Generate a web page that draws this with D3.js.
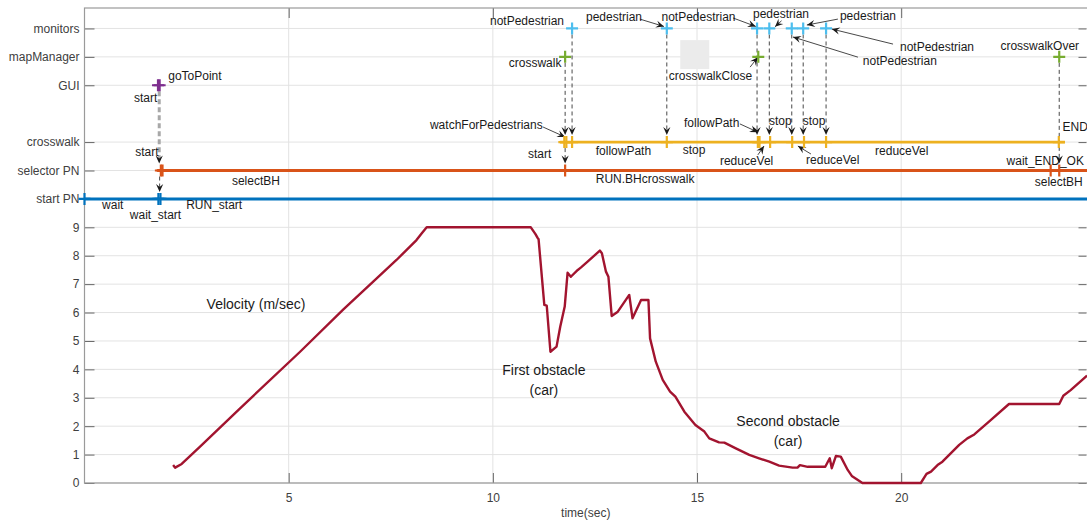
<!DOCTYPE html>
<html>
<head>
<meta charset="utf-8">
<script src="https://cdn.jsdelivr.net/npm/d3@7/dist/d3.min.js"></script>
<style>
  body { margin: 0; background: #fff; }
  text { font-family: "Liberation Sans", Arial, sans-serif; }
</style>
</head>
<body>
<script>
// velocity trace (time in sec, m/sec)
const timeS = [
  2.17, 2.22, 2.38, 2.83, 3.81, 5.28, 6.34, 7.07, 7.64, 8.13,
  8.26, 8.38, 10.93, 11.04, 11.10, 11.12, 11.26, 11.32, 11.41, 11.56,
  11.65, 11.76, 11.83, 11.91, 12.08, 12.16, 12.32, 12.62, 12.67, 12.77,
  12.83, 12.91, 13.06, 13.34, 13.42, 13.63, 13.81, 13.85, 13.99, 14.16,
  14.34, 14.47, 14.69, 14.96, 15.18, 15.30, 15.54, 15.67, 15.95, 16.28,
  16.52, 16.77, 17.01, 17.34, 17.46, 17.52, 17.71, 18.14, 18.25, 18.30,
  18.40, 18.52, 18.69, 18.79, 19.05, 20.48, 20.62, 20.73, 20.89, 21.01,
  21.42, 21.62, 21.79, 22.15, 22.64, 23.87, 23.97, 24.15, 24.55
];
const velocity = [
  0.63, 0.54, 0.67, 1.28, 2.63, 4.62, 6.11, 7.09, 7.85, 8.55,
  8.79, 9.00, 9.00, 8.77, 8.62, 8.58, 6.27, 6.24, 4.62, 4.80,
  5.50, 6.21, 7.40, 7.26, 7.50, 7.59, 7.79, 8.18, 8.09, 7.44,
  7.26, 5.88, 6.03, 6.62, 5.80, 6.44, 6.44, 5.09, 4.27, 3.63,
  3.22, 3.04, 2.51, 2.04, 1.81, 1.57, 1.43, 1.42, 1.22, 0.99,
  0.87, 0.75, 0.61, 0.54, 0.54, 0.63, 0.57, 0.57, 0.87, 0.52,
  0.95, 0.93, 0.46, 0.25, 0.00, 0.00, 0.32, 0.40, 0.63, 0.75,
  1.34, 1.57, 1.71, 2.16, 2.78, 2.78, 3.07, 3.27, 3.78
];

// event rows drawn above the velocity trace
const rowNames  = ["start PN", "selector PN", "crosswalk", "GUI", "mapManager", "monitors"];
const rowLevels = [10, 11, 12, 14, 15, 16];
const lineStart = [0, 1.78, 11.64, null, null, null];
const lineEnd   = [24.6, 24.6, 24.01, null, null, null];

const startPnEvents    = [0, 1.81, 1.86];
const selectorEvents   = [1.87, 1.91, 11.77, 23.66, 23.87];
const crosswalkEvents  = [11.75, 11.80, 11.94, 14.26, 16.49, 16.53, 16.79, 17.33, 17.62, 18.16, 23.86];
const guiEvents        = [1.80, 1.84];
const mapManagerEvents = [11.77, 16.50, 23.87];
const monitorEvents    = [11.94, 14.26, 16.47, 16.77, 17.32, 17.60, 18.16];

// [time, from level, to level]
const guiArrow = [1.83, 14, 11];
const dashedArrows = [
  [1.84, 11, 10],
  [11.77, 15, 12], [11.94, 16, 12], [11.77, 12, 11],
  [14.26, 16, 12], [16.47, 16, 12], [16.77, 16, 12],
  [17.32, 16, 12], [17.60, 16, 12], [18.16, 16, 12],
  [23.87, 15, 11]
];

// [text, time, level] (left edge, vertical centre)
const eventLabels = [
  ["wait", 0.43, 9.75], ["wait_start", 1.11, 9.40], ["RUN_start", 2.49, 9.76],
  ["start", 1.24, 11.61], ["selectBH", 3.61, 10.61],
  ["start", 1.21, 13.51], ["goToPoint", 2.05, 14.30],
  ["notPedestrian", 9.93, 16.24], ["crosswalk", 10.39, 14.77],
  ["watchForPedestrians", 8.46, 12.57], ["start", 10.86, 11.55],
  ["followPath", 12.52, 11.64], ["stop", 14.65, 11.70], ["RUN.BHcrosswalk", 12.52, 10.67],
  ["pedestrian", 12.28, 16.36], ["notPedestrian", 14.13, 16.37],
  ["crosswalkClose", 14.31, 14.29], ["followPath", 14.68, 12.64],
  ["reduceVel", 15.56, 11.31], ["stop", 16.76, 12.72], ["stop", 17.59, 12.72],
  ["reduceVel", 17.67, 11.34], ["pedestrian", 16.37, 16.47], ["pedestrian", 18.50, 16.41],
  ["notPedestrian", 19.97, 15.31], ["notPedestrian", 19.06, 14.82],
  ["reduceVel", 19.36, 11.66], ["crosswalkOver", 22.43, 15.36], ["END", 23.95, 12.51],
  ["wait_END_OK", 22.58, 11.32], ["selectBH", 23.27, 10.58]
];

// [t0, v0, t1 (tip), v1 (tip)]
const pointerArrows = [
  [11.23, 12.53, 11.77, 12.18],
  [13.60, 16.33, 14.19, 16.07],
  [15.88, 16.37, 16.44, 16.07],
  [17.07, 16.27, 16.91, 16.06],
  [18.45, 16.33, 17.69, 16.12],
  [19.80, 15.45, 18.30, 15.98],
  [18.94, 14.99, 17.35, 15.70],
  [16.30, 14.64, 16.49, 14.99],
  [16.05, 12.64, 16.49, 12.35],
  [16.49, 11.55, 16.64, 11.86],
  [17.79, 11.58, 17.47, 11.86]
];

// [text, time, level] centred notes
const notes = [
  ["First obstacle", 11.25, 3.94], ["(car)", 11.25, 3.22],
  ["Second obstacle", 17.23, 2.14], ["(car)", 17.23, 1.45]
];

const velTicks  = [0, 1, 2, 3, 4, 5, 6, 7, 8, 9];
const timeTicks = [5, 10, 15, 20];

const W = 1087, H = 522;
const margin = {top: 8, right: 0, bottom: 39, left: 84.5};

const svg = d3.select("body").append("svg")
  .attr("width", W).attr("height", H);

const x = d3.scaleLinear().domain([0, 24.55]).range([margin.left, W - margin.right]);
const y = d3.scaleLinear().domain([0, 16.72]).range([H - margin.bottom, margin.top]);

const yTicks = velTicks.concat(rowLevels);

// grid
svg.append("g").selectAll("line").data(yTicks).join("line")
  .attr("x1", x(0)).attr("x2", W)
  .attr("y1", d => y(d)).attr("y2", d => y(d))
  .attr("stroke", "#e3e3e3").attr("stroke-width", 1);
svg.append("g").selectAll("line").data(timeTicks).join("line")
  .attr("x1", d => x(d)).attr("x2", d => x(d))
  .attr("y1", y(0)).attr("y2", y(16.72))
  .attr("stroke", "#e3e3e3").attr("stroke-width", 1);

// axes
const tickFmt = d => d < 10 ? String(d) : rowNames[rowLevels.indexOf(d)];
const gl = svg.append("g").attr("transform", `translate(${x(0)},0)`)
  .call(d3.axisLeft(y).tickValues(yTicks).tickSize(-10).tickPadding(5).tickFormat(tickFmt));
const gr = svg.append("g").attr("transform", `translate(${W - 0.5},0)`)
  .call(d3.axisRight(y).tickValues(yTicks).tickSize(-8).tickFormat(""));
const gb = svg.append("g").attr("transform", `translate(0,${y(0)})`)
  .call(d3.axisBottom(x).tickValues(timeTicks).tickSize(-10).tickPadding(10).tickFormat(d3.format("d")));
const gt = svg.append("g").attr("transform", `translate(0,${y(16.72)})`)
  .call(d3.axisTop(x).tickValues(timeTicks).tickSize(-10).tickFormat(""));
[gl, gr, gb, gt].forEach(g => {
  g.select(".domain").remove();
  g.selectAll(".tick line").attr("stroke", "#666");
  g.selectAll("text").attr("fill", "#404040").style("font-size", "12px")
    .style("font-family", "'Liberation Sans', Arial, sans-serif");
});

svg.append("rect")
  .attr("x", x(0)).attr("y", y(16.72))
  .attr("width", W - x(0) + 2).attr("height", y(0) - y(16.72))
  .attr("fill", "none").attr("stroke", "#9a9a9a").attr("stroke-width", 1.2);

svg.append("text").attr("x", (x(0) + W) / 2).attr("y", y(0) + 34)
  .attr("text-anchor", "middle").attr("fill", "#404040").style("font-size", "12px")
  .text("time(sec)");

// empty note box
svg.append("rect")
  .attr("x", x(14.59)).attr("y", y(15.59))
  .attr("width", x(15.30) - x(14.59)).attr("height", y(14.57) - y(15.59))
  .attr("fill", "#ebebeb");

// velocity
const vel = timeS.map((t, i) => [t, velocity[i]]);
svg.append("path").datum(vel)
  .attr("fill", "none").attr("stroke", "#A2142F").attr("stroke-width", 2.4)
  .attr("stroke-linejoin", "round")
  .attr("d", d3.line().x(d => x(d[0])).y(d => y(d[1])));

svg.append("text").attr("x", x(2.99)).attr("y", y(6.27))
  .attr("dominant-baseline", "middle").attr("fill", "#1a1a1a").style("font-size", "14px")
  .text("Velocity (m/sec)");
svg.append("g").selectAll("text").data(notes).join("text")
  .attr("x", d => x(d[1])).attr("y", d => y(d[2]))
  .attr("text-anchor", "middle").attr("dominant-baseline", "middle")
  .attr("fill", "#1a1a1a").style("font-size", "14px")
  .text(d => d[0]);

// event lines
const rowColors = ["#0072BD", "#D95319", "#EDB120", "#7E2F8E", "#77AC30", "#4DBEEE"];
const rowEvents = [startPnEvents, selectorEvents, crosswalkEvents, guiEvents, mapManagerEvents, monitorEvents];

rowLevels.forEach((lv, i) => {
  if (lineStart[i] === null) return;
  svg.append("line")
    .attr("x1", x(lineStart[i])).attr("x2", x(lineEnd[i]))
    .attr("y1", y(lv)).attr("y2", y(lv))
    .attr("stroke", rowColors[i]).attr("stroke-width", i === 2 ? 2.6 : 3);
});

// arrow head (filled, notched back)
function arrowHead(g, x1, y1, x2, y2) {
  const a = Math.atan2(y2 - y1, x2 - x1);
  const L = 8, w = 3.6, n = 3;
  const pts = [[0, 0], [-L, w], [-L + n, 0], [-L, -w]].map(([px, py]) => [
    x2 + px * Math.cos(a) - py * Math.sin(a),
    y2 + px * Math.sin(a) + py * Math.cos(a)
  ]);
  g.append("polygon").attr("points", pts.map(p => p.join(",")).join(" ")).attr("fill", "#1a1a1a");
}

const arrows = svg.append("g");
// GUI -> selector (thick grey)
{
  const [t, from, to] = guiArrow;
  const y1 = y(from) + 6, y2 = y(to) - 7;
  arrows.append("line").attr("x1", x(t)).attr("x2", x(t)).attr("y1", y1).attr("y2", y2 - 4)
    .attr("stroke", "#a8a8a8").attr("stroke-width", 3).attr("stroke-dasharray", "5,3");
  arrowHead(arrows, x(t), y1, x(t), y2);
}
dashedArrows.forEach(([t, from, to]) => {
  const y1 = y(from) + 6, y2 = y(to) - 7;
  arrows.append("line").attr("x1", x(t)).attr("x2", x(t)).attr("y1", y1).attr("y2", y2 - 3)
    .attr("stroke", "#333").attr("stroke-width", 0.9).attr("stroke-dasharray", "4,3");
  arrowHead(arrows, x(t), y1, x(t), y2);
});
pointerArrows.forEach(([t0, v0, t1, v1]) => {
  const X0 = x(t0), Y0 = y(v0), X1 = x(t1), Y1 = y(v1);
  arrows.append("line").attr("x1", X0).attr("y1", Y0).attr("x2", X1).attr("y2", Y1)
    .attr("stroke", "#333").attr("stroke-width", 0.9);
  arrowHead(arrows, X0, Y0, X1, Y1);
});

// event markers
rowLevels.forEach((lv, i) => {
  svg.append("g").selectAll("path").data(rowEvents[i]).join("path")
    .attr("d", t => `M${x(t) - 6},${y(lv)}h12M${x(t)},${y(lv) - 6}v12`)
    .attr("stroke", rowColors[i]).attr("stroke-width", 2.2).attr("fill", "none");
});

// event labels
svg.append("g").selectAll("text").data(eventLabels).join("text")
  .attr("x", d => x(d[1])).attr("y", d => y(d[2]))
  .attr("dominant-baseline", "middle").attr("fill", "#1a1a1a").style("font-size", "12px")
  .text(d => d[0]);
</script>
</body>
</html>
